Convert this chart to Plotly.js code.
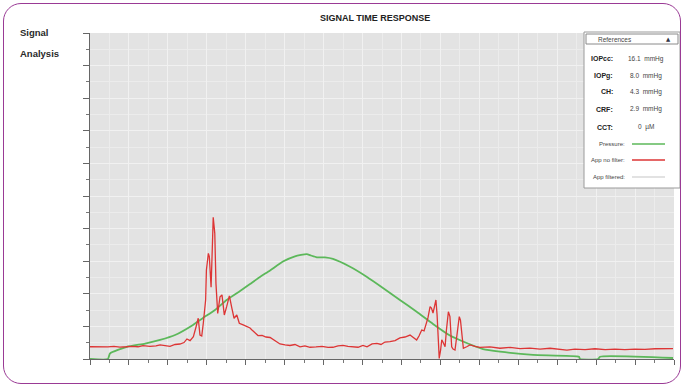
<!DOCTYPE html>
<html>
<head>
<meta charset="utf-8">
<script src="https://cdn.plot.ly/plotly-3.0.1.min.js"></script>
<style>
html,body{margin:0;padding:0;background:#fff;}
#wrap{position:relative;width:685px;height:385px;overflow:hidden;}
#chart{position:absolute;left:0;top:0;width:685px;height:385px;}
#frame{position:absolute;left:3px;top:3px;width:678px;height:381px;box-sizing:border-box;border:1.5px solid #9a3a95;border-radius:18px;pointer-events:none;}
</style>
</head>
<body>
<div id="wrap"><div id="chart"></div><div id="frame"></div></div>
<script>
// Pressure curve (time units, signal units)
const pressureX = [0.00,0.92,1.03,1.89,2.83,3.60,4.37,5.29,5.81,6.42,7.02,7.71,8.22,8.73,9.25,9.91,10.53,11.13,11.35,11.65,12.07,12.48,13.36,14.21,15.05,15.92,16.78,17.62,18.49,19.35,20.19,21.06,22.76,25.12,25.17,26.10,26.20,29.95];
const pressureY = [0.00,0.00,0.35,0.75,0.95,1.17,1.47,2.09,2.52,3.01,3.62,4.17,4.60,5.03,5.43,5.98,6.30,6.44,6.35,6.24,6.23,6.14,5.66,5.05,4.36,3.62,2.90,2.15,1.44,0.98,0.61,0.45,0.25,0.14,0.00,0.00,0.14,0.06];

// Applanation signal, no filter
const appX = [0.00,0.31,0.62,0.92,1.23,1.54,1.85,2.16,2.47,2.72,3.08,3.39,3.60,3.85,4.11,4.37,4.62,4.83,4.98,5.14,5.31,5.45,5.56,5.65,5.74,5.82,5.94,5.98,6.08,6.13,6.22,6.28,6.33,6.41,6.47,6.56,6.68,6.78,6.90,7.02,7.16,7.29,7.40,7.54,7.67,7.87,8.05,8.22,8.32,8.48,8.63,8.84,9.04,9.25,9.50,9.76,10.02,10.27,10.53,10.79,11.04,11.30,11.61,11.92,12.23,12.48,12.74,13.00,13.25,13.51,13.77,14.02,14.23,14.49,14.74,14.95,15.15,15.41,15.67,15.92,16.18,16.44,16.59,16.78,16.90,17.04,17.16,17.30,17.36,17.47,17.54,17.62,17.70,17.77,17.83,17.88,17.94,18.01,18.07,18.13,18.24,18.31,18.41,18.49,18.54,18.58,18.65,18.75,18.85,18.97,19.03,19.09,19.18,19.35,19.52,19.78,20.03,20.55,21.06,21.58,22.09,22.60,23.12,23.63,24.14,24.50,24.91,25.43,25.94,26.46,26.97,27.48,28.00,28.51,29.03,29.59,29.95];
const appY = [0.75,0.74,0.77,0.74,0.77,0.73,0.75,0.78,0.75,0.82,0.78,0.80,0.86,0.80,0.78,0.89,0.92,1.01,1.23,1.13,1.37,1.98,2.50,1.47,1.41,2.19,3.62,5.46,6.48,6.28,4.40,6.69,8.69,7.71,4.64,2.80,3.82,3.93,2.70,3.21,3.87,3.11,2.50,2.70,2.19,2.09,1.98,1.90,1.78,1.60,1.44,1.45,1.35,1.32,1.10,0.92,0.86,0.83,0.89,0.75,0.80,0.72,0.74,0.77,0.71,0.72,0.80,0.84,0.77,0.74,0.72,0.83,0.75,0.93,0.96,0.89,1.04,1.06,1.13,1.29,1.35,1.47,1.32,1.17,1.41,1.78,1.72,2.29,2.52,3.21,3.13,2.82,3.31,3.62,2.70,1.37,0.04,0.55,1.17,1.04,0.75,1.78,2.90,2.60,1.47,0.75,0.61,0.55,1.47,2.60,2.39,1.78,0.66,0.75,0.86,0.77,0.71,0.74,0.66,0.71,0.64,0.67,0.61,0.66,0.60,0.55,0.61,0.58,0.63,0.58,0.61,0.58,0.61,0.59,0.63,0.61,0.64];

// Reference panel contents
const refLabels = ["IOPcc:","IOPg:","CH:","CRF:","CCT:"];
const refValues = ["16.1  mmHg","8.0  mmHg","4.3  mmHg","2.9  mmHg","0  µM"];
const seriesNames = ["Pressure:","App no filter:","App filtered:"];
const seriesColors = ["#5cb85a","#dd3535","#d8d8d8"];

const traces = [
  {x: pressureX, y: pressureY, type:'scatter', mode:'lines', line:{color:seriesColors[0], width:1.8, shape:'spline', smoothing:0.5}, hoverinfo:'skip'},
  {x: appX, y: appY, type:'scatter', mode:'lines', line:{color:seriesColors[1], width:1.3}, hoverinfo:'skip'}
];

// paper coordinates helpers for the reference panel (plot area 90..674 x 33..359 px)
const L = 90, R = 674, T = 33, B = 359;
const px = v => (v - L) / (R - L);
const py = v => (B - v) / (B - T);

const shapes = [
  {type:'rect', xref:'paper', yref:'paper', x0:px(584), x1:px(680), y0:py(188), y1:py(32), fillcolor:'#ffffff', line:{color:'#9a9a9a', width:1}, layer:'above'},
  {type:'rect', xref:'paper', yref:'paper', x0:px(586), x1:px(678), y0:py(44), y1:py(34), fillcolor:'#ffffff', line:{color:'#8a8a8a', width:1}, layer:'above'}
];
const annotations = [
  {text:'<b>SIGNAL TIME RESPONSE</b>', xref:'paper', yref:'paper', x:px(375), y:py(18), xanchor:'center', yanchor:'middle', showarrow:false, font:{family:'Liberation Sans, Arial', size:9, color:'#222'}},
  {text:'<b>Signal</b>', xref:'paper', yref:'paper', x:px(18), y:py(32), xanchor:'left', yanchor:'middle', showarrow:false, font:{family:'Liberation Sans, Arial', size:9.5, color:'#2a2a2a'}},
  {text:'<b>Analysis</b>', xref:'paper', yref:'paper', x:px(18), y:py(54), xanchor:'left', yanchor:'middle', showarrow:false, font:{family:'Liberation Sans, Arial', size:9.5, color:'#2a2a2a'}},
  {text:'References', xref:'paper', yref:'paper', x:px(615), y:py(39), xanchor:'center', yanchor:'middle', showarrow:false, font:{family:'Liberation Sans, Arial', size:6.5, color:'#444'}},
  {text:'▲', xref:'paper', yref:'paper', x:px(668), y:py(39), xanchor:'center', yanchor:'middle', showarrow:false, font:{family:'DejaVu Sans', size:5.5, color:'#334'}}
];
const rowY = [59, 76, 92, 109, 127];
refLabels.forEach((lab, i) => {
  annotations.push({text:'<b>'+lab+'</b>', xref:'paper', yref:'paper', x:px(615), y:py(rowY[i]), xanchor:'right', yanchor:'middle', showarrow:false, font:{family:'Liberation Sans, Arial', size:7, color:'#222'}});
  annotations.push({text:refValues[i], xref:'paper', yref:'paper', x:px(646), y:py(rowY[i]), xanchor:'center', yanchor:'middle', showarrow:false, font:{family:'Liberation Sans, Arial', size:6.5, color:'#444'}});
});
const serY = [144, 160, 177];
seriesNames.forEach((nm, i) => {
  annotations.push({text:nm, xref:'paper', yref:'paper', x:px(627), y:py(serY[i]), xanchor:'right', yanchor:'middle', showarrow:false, font:{family:'Liberation Sans, Arial', size:6, color:'#444'}});
  shapes.push({type:'line', xref:'paper', yref:'paper', x0:px(632), x1:px(665), y0:py(serY[i]), y1:py(serY[i]), line:{color:seriesColors[i], width:1.6}, layer:'above'});
});

const layout = {
  width:685, height:385,
  margin:{l:L, r:685-R, t:T, b:385-B, pad:0},
  paper_bgcolor:'#ffffff', plot_bgcolor:'#e3e3e3',
  showlegend:false,
  xaxis:{range:[0,30], tick0:0, dtick:2, ticks:'outside', ticklen:5, tickwidth:1, tickcolor:'#666', showticklabels:false,
         showline:true, linecolor:'#666', linewidth:1, showgrid:true, gridcolor:'#f1f1f1', gridwidth:1, zeroline:false,
         minor:{dtick:1, ticks:'outside', ticklen:3, tickcolor:'#777', showgrid:true, gridcolor:'#ececec'}},
  yaxis:{range:[0,20], tick0:0, dtick:2, ticks:'outside', ticklen:6, tickwidth:1, tickcolor:'#666', showticklabels:false,
         showline:true, linecolor:'#666', linewidth:1, showgrid:true, gridcolor:'#f1f1f1', gridwidth:1, zeroline:false,
         minor:{dtick:1, ticks:'outside', ticklen:3, tickcolor:'#777', showgrid:true, gridcolor:'#ececec'}},
  shapes: shapes,
  annotations: annotations
};
Plotly.newPlot('chart', traces, layout, {staticPlot:true, displayModeBar:false});
</script>
</body>
</html>
